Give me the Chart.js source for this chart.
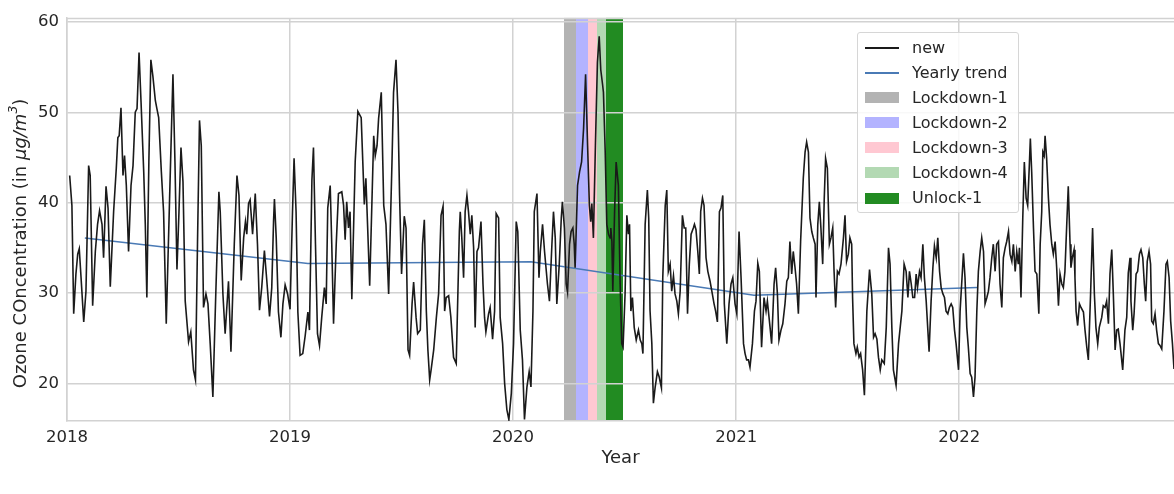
<!DOCTYPE html>
<html>
<head>
<meta charset="utf-8">
<script src="https://cdn.jsdelivr.net/npm/chart.js@4.4.1/dist/chart.umd.min.js"></script>
<style>
  html, body { margin: 0; padding: 0; background: #ffffff; }
  #wrap { position: relative; width: 1174px; height: 494px; overflow: hidden; }
  #legend {
    position: absolute; left: 857px; top: 32px; width: 160px; height: 179px;
    border: 1px solid #d6d6d6; border-radius: 3px; background: rgba(255, 255, 255, 0.85);
    font-family: 'DejaVu Sans', sans-serif; font-size: 16px; color: #262626;
  }
  .lg-item { position: absolute; left: 0; width: 160px; height: 20px; }
  .lg-mark { position: absolute; left: 7px; width: 34px; }
  .lg-text { position: absolute; left: 54px; top: 0; line-height: 20px; white-space: nowrap; }
</style>
</head>
<body>
<div id="wrap">
  <canvas id="ozoneChart" width="1174" height="494"></canvas>
  <div id="legend"></div>
</div>
<script>
// Daily ozone series (decimal year, µg/m³)
const dates = [
  2018.012, 2018.022, 2018.030, 2018.040, 2018.048, 2018.055, 2018.063, 2018.075, 2018.085, 2018.097,
  2018.104, 2018.115, 2018.127, 2018.137, 2018.146, 2018.157, 2018.164, 2018.175, 2018.184, 2018.194,
  2018.209, 2018.221, 2018.228, 2018.234, 2018.242, 2018.251, 2018.258, 2018.266, 2018.276, 2018.287,
  2018.296, 2018.306, 2018.314, 2018.323, 2018.332, 2018.344, 2018.351, 2018.358, 2018.367, 2018.376,
  2018.385, 2018.396, 2018.403, 2018.411, 2018.423,
  2018.433, 2018.445, 2018.460, 2018.475, 2018.484, 2018.493, 2018.502, 2018.511, 2018.520, 2018.530,
  2018.545, 2018.555, 2018.567, 2018.576, 2018.585, 2018.594, 2018.602, 2018.612, 2018.623, 2018.632,
  2018.642, 2018.654, 2018.667, 2018.681, 2018.687, 2018.699, 2018.709, 2018.724, 2018.735, 2018.750,
  2018.762, 2018.771, 2018.781, 2018.792, 2018.800, 2018.806, 2018.814, 2018.821, 2018.832, 2018.844,
  2018.854, 2018.863,
  2018.873, 2018.885, 2018.896, 2018.908, 2018.918, 2018.926, 2018.930, 2018.938, 2018.948, 2018.959,
  2018.968, 2018.978, 2018.989, 2019.000, 2019.011, 2019.018, 2019.027, 2019.035, 2019.045, 2019.057,
  2019.068, 2019.080, 2019.087, 2019.098, 2019.105, 2019.114, 2019.123, 2019.132, 2019.142, 2019.154,
  2019.162, 2019.169, 2019.180, 2019.187, 2019.195, 2019.207, 2019.217, 2019.232, 2019.240, 2019.247,
  2019.254, 2019.262, 2019.269, 2019.277, 2019.292, 2019.304, 2019.319,
  2019.333, 2019.340, 2019.348, 2019.357, 2019.375, 2019.382, 2019.390, 2019.397, 2019.409, 2019.420,
  2019.430, 2019.442, 2019.457, 2019.464, 2019.475, 2019.484, 2019.491, 2019.500, 2019.512, 2019.520,
  2019.529, 2019.536, 2019.547, 2019.554, 2019.565, 2019.572, 2019.584, 2019.594, 2019.602, 2019.611,
  2019.618, 2019.626, 2019.633, 2019.644, 2019.656, 2019.666, 2019.677, 2019.686, 2019.693, 2019.700,
  2019.711, 2019.721, 2019.733, 2019.745, 2019.759,
  2019.763, 2019.770, 2019.778, 2019.785, 2019.793, 2019.800, 2019.808, 2019.815, 2019.823, 2019.830,
  2019.838, 2019.845, 2019.856, 2019.865, 2019.872, 2019.878, 2019.890, 2019.897, 2019.908, 2019.917,
  2019.924, 2019.935, 2019.942, 2019.953, 2019.962, 2019.972, 2019.981, 2019.992, 2020.002, 2020.014,
  2020.021, 2020.032, 2020.042, 2020.051, 2020.062, 2020.072, 2020.080, 2020.089, 2020.095, 2020.107,
  2020.116, 2020.122, 2020.132, 2020.141, 2020.154, 2020.163, 2020.174, 2020.181, 2020.189, 2020.196,
  2020.207, 2020.216, 2020.221,
  2020.230, 2020.238, 2020.244, 2020.253, 2020.260, 2020.268, 2020.274, 2020.278, 2020.289, 2020.298,
  2020.307, 2020.316, 2020.325, 2020.334, 2020.342, 2020.348, 2020.353, 2020.360, 2020.369, 2020.378,
  2020.386, 2020.393, 2020.401, 2020.405, 2020.413, 2020.420, 2020.428, 2020.435, 2020.438, 2020.443,
  2020.447, 2020.455, 2020.462, 2020.472, 2020.480, 2020.487, 2020.493, 2020.502, 2020.510, 2020.517,
  2020.522, 2020.528, 2020.535, 2020.543, 2020.552, 2020.562, 2020.570, 2020.577, 2020.582, 2020.592,
  2020.602, 2020.608, 2020.614, 2020.622, 2020.629, 2020.637, 2020.647, 2020.655, 2020.665, 2020.671,
  2020.682,
  2020.689, 2020.696, 2020.704, 2020.711, 2020.719, 2020.726, 2020.734, 2020.741, 2020.749, 2020.759,
  2020.767, 2020.774, 2020.782, 2020.790, 2020.798, 2020.808, 2020.813, 2020.820, 2020.828, 2020.835,
  2020.841, 2020.849, 2020.856, 2020.865, 2020.873, 2020.883, 2020.891, 2020.901, 2020.908, 2020.916,
  2020.925, 2020.932, 2020.940, 2020.947, 2020.958, 2020.968, 2020.977, 2020.985, 2020.995, 2021.003,
  2021.013, 2021.022, 2021.033, 2021.040, 2021.047, 2021.055, 2021.062, 2021.073, 2021.082, 2021.089,
  2021.097, 2021.104,
  2021.114, 2021.125, 2021.134, 2021.140, 2021.152, 2021.159, 2021.170, 2021.177, 2021.185, 2021.192,
  2021.201, 2021.209, 2021.219, 2021.227, 2021.234, 2021.241, 2021.249, 2021.256, 2021.264, 2021.271,
  2021.279, 2021.289, 2021.301, 2021.309, 2021.316, 2021.324, 2021.331, 2021.339, 2021.346, 2021.354,
  2021.358, 2021.366, 2021.373, 2021.380, 2021.388, 2021.395, 2021.401, 2021.409, 2021.418, 2021.425,
  2021.433, 2021.439, 2021.446, 2021.454, 2021.461, 2021.470, 2021.481, 2021.488, 2021.495, 2021.503,
  2021.510, 2021.518, 2021.522, 2021.528, 2021.537, 2021.543, 2021.551, 2021.558, 2021.567,
  2021.575, 2021.586, 2021.598, 2021.608, 2021.616, 2021.623, 2021.631, 2021.638, 2021.646, 2021.653,
  2021.664, 2021.673, 2021.683, 2021.690, 2021.698, 2021.705, 2021.717, 2021.728, 2021.743, 2021.753,
  2021.762, 2021.770, 2021.777, 2021.785, 2021.792, 2021.800, 2021.807, 2021.813, 2021.822, 2021.829,
  2021.837, 2021.844, 2021.852, 2021.865, 2021.874, 2021.882, 2021.889, 2021.897, 2021.904, 2021.912,
  2021.919, 2021.927, 2021.934, 2021.941, 2021.949, 2021.956, 2021.964, 2021.971, 2021.979, 2021.986,
  2021.997, 2022.004,
  2022.019, 2022.026, 2022.034, 2022.041, 2022.049, 2022.056, 2022.064, 2022.071, 2022.079, 2022.086,
  2022.094, 2022.101, 2022.109, 2022.116, 2022.124, 2022.131, 2022.138, 2022.146, 2022.153, 2022.161,
  2022.168, 2022.176, 2022.183, 2022.191, 2022.198, 2022.206, 2022.213, 2022.221, 2022.228, 2022.236,
  2022.243, 2022.251, 2022.258, 2022.265, 2022.270, 2022.277, 2022.285, 2022.292, 2022.300, 2022.307,
  2022.315, 2022.319, 2022.325, 2022.333, 2022.340, 2022.348, 2022.357, 2022.363, 2022.370, 2022.375,
  2022.381, 2022.385, 2022.392, 2022.400, 2022.407, 2022.415, 2022.422, 2022.430, 2022.437, 2022.445,
  2022.452, 2022.460, 2022.467,
  2022.474, 2022.482, 2022.489, 2022.497, 2022.501, 2022.507, 2022.515, 2022.519, 2022.524, 2022.531,
  2022.539, 2022.546, 2022.557, 2022.564, 2022.572, 2022.579, 2022.589, 2022.598, 2022.606, 2022.613,
  2022.621, 2022.628, 2022.639, 2022.646, 2022.654, 2022.661, 2022.669, 2022.676, 2022.684, 2022.691,
  2022.699, 2022.706, 2022.713, 2022.721, 2022.733, 2022.743, 2022.751, 2022.758, 2022.766, 2022.770,
  2022.778, 2022.784, 2022.793, 2022.800, 2022.808, 2022.815, 2022.823, 2022.830, 2022.836, 2022.843,
  2022.851, 2022.858, 2022.863, 2022.870, 2022.878, 2022.885, 2022.893, 2022.900, 2022.908, 2022.918,
  2022.927, 2022.933, 2022.941, 2022.948, 2022.956, 2022.963
];

const ozone = [
  43.0, 39.7, 27.7, 32.1, 34.3, 34.9, 31.7, 26.8, 30.2, 44.1,
  43.0, 28.6, 34.6, 37.6, 39.1, 37.6, 33.9, 41.8, 39.4, 30.7,
  39.0, 43.8, 47.2, 47.4, 50.5, 43.0, 45.2, 41.9, 34.6, 41.9,
  44.1, 50.0, 50.4, 56.6, 51.1, 43.4, 37.6, 29.5, 44.5, 55.8,
  54.0, 51.3, 50.4, 49.4, 43.4,
  39.0, 26.6, 40.5, 54.2, 44.5, 32.6, 39.0, 46.1, 42.3, 29.1,
  24.6, 25.7, 21.5, 20.4, 35.4, 49.1, 46.3, 28.4, 29.9, 28.8,
  24.4, 18.5, 29.9, 41.2, 39.0, 29.9, 25.5, 31.3, 23.5, 35.4,
  43.0, 40.8, 31.4, 36.1, 37.9, 36.5, 39.9, 40.3, 36.5, 41.0,
  35.4, 28.1,
  30.6, 34.7, 31.3, 27.4, 30.6, 37.9, 40.4, 36.1, 27.9, 25.1,
  28.8, 30.9, 29.9, 28.2, 39.0, 44.9, 39.0, 27.9, 23.1, 23.3,
  25.3, 27.9, 25.9, 42.5, 46.1, 35.4, 25.5, 24.2, 27.3, 30.6,
  28.8, 39.4, 41.9, 35.4, 26.6, 35.4, 41.0, 41.2, 39.7, 35.9,
  40.1, 37.2, 39.0, 29.3, 44.5, 50.1, 49.4,
  39.8, 42.7, 37.2, 30.8, 47.4, 45.2, 46.3, 49.3, 52.2, 39.7,
  37.6, 29.9, 44.5, 52.2, 55.8, 50.0, 40.8, 32.1, 38.5, 37.2,
  23.7, 23.1, 28.8, 31.2, 27.3, 25.5, 25.9, 35.4, 38.1, 28.0,
  23.7, 20.4, 21.6, 23.7, 27.3, 29.9, 38.6, 39.6, 28.0, 29.5,
  29.7, 27.3, 22.9, 22.2, 36.8,
  39.0, 36.1, 31.7, 39.0, 40.8, 39.0, 36.5, 38.6, 35.0, 26.2,
  34.6, 35.0, 37.9, 31.0, 27.3, 25.7, 27.7, 28.4, 24.9, 28.0,
  38.8, 38.3, 27.3, 24.4, 20.0, 17.1, 16.0, 18.9, 24.4, 37.9,
  36.8, 25.9, 22.6, 16.0, 19.6, 21.3, 19.6, 28.0, 39.0, 41.0,
  31.7, 34.6, 37.6, 34.6, 31.0, 29.1, 35.4, 39.0, 36.1, 28.8,
  33.2, 38.3, 40.1,
  37.2, 31.0, 30.1, 35.4, 36.8, 37.2, 35.4, 32.8, 41.9, 43.4,
  44.5, 48.2, 54.2, 46.3, 39.7, 37.9, 39.9, 36.1, 46.3, 55.5,
  58.4, 54.7, 53.1, 52.2, 45.6, 37.6, 36.5, 36.1, 37.2, 35.7,
  30.2, 39.0, 44.5, 41.9, 31.0, 24.4, 24.0, 29.9, 38.6, 36.5,
  37.6, 28.0, 29.5, 26.2, 24.8, 25.9, 24.8, 24.4, 23.3, 37.6,
  41.4, 38.3, 28.0, 24.4, 17.8, 19.6, 21.3, 20.7, 19.5, 31.7,
  39.7,
  41.4, 32.4, 33.2, 30.2, 31.9, 29.9, 29.1, 27.7, 30.2, 38.6,
  37.2, 37.2, 27.7, 33.2, 36.5, 37.2, 37.6, 37.0, 34.6, 32.1,
  39.0, 40.5, 39.7, 33.9, 32.4, 31.3, 30.2, 28.8, 28.0, 26.8,
  39.0, 39.4, 40.8, 28.8, 24.4, 28.8, 31.0, 31.7, 28.8, 27.7,
  36.8, 31.7, 24.4, 23.3, 22.6, 22.6, 21.8, 24.4, 28.0, 29.1,
  33.3, 32.4,
  24.0, 29.5, 28.0, 29.1, 26.2, 24.4, 31.0, 32.8, 29.9, 24.8,
  25.9, 26.6, 28.8, 31.3, 31.7, 35.7, 32.1, 34.6, 32.8, 31.0,
  27.7, 35.7, 42.7, 45.6, 46.7, 45.6, 38.3, 36.8, 36.1, 35.4,
  29.5, 37.6, 40.1, 37.2, 33.2, 40.5, 44.9, 43.8, 35.4, 36.1,
  37.2, 32.4, 28.4, 32.4, 32.1, 33.2, 36.1, 38.6, 33.5, 34.3,
  36.1, 35.4, 29.5, 24.4, 23.3, 24.0, 22.9, 23.3, 21.5,
  18.7, 28.0, 32.6, 29.9, 25.1, 25.5, 24.9, 22.9, 21.5, 22.6,
  22.2, 26.2, 35.0, 33.2, 26.2, 21.5, 19.8, 24.4, 28.0, 33.2,
  32.4, 29.5, 32.4, 31.0, 29.5, 29.5, 32.1, 30.6, 32.4, 31.7,
  35.4, 31.7, 29.1, 23.5, 29.1, 32.8, 35.2, 33.9, 36.1, 32.4,
  30.6, 29.9, 29.5, 28.0, 27.7, 28.4, 28.8, 28.4, 25.9, 24.4,
  21.5, 28.0,
  34.4, 31.7, 26.2, 24.0, 21.1, 20.7, 18.5, 20.7, 28.0, 32.4,
  34.6, 36.1, 34.6, 28.8, 29.5, 30.2, 31.7, 33.9, 35.4, 32.4,
  35.4, 35.7, 31.0, 28.4, 33.9, 35.0, 35.7, 36.8, 34.3, 33.5,
  35.4, 32.4, 34.6, 33.2, 35.0, 29.5, 38.3, 44.5, 40.5, 39.7,
  44.5, 47.1, 43.4, 37.2, 32.4, 32.1, 27.7, 35.4, 39.0, 45.6,
  45.2, 47.4, 44.9, 40.5, 37.6, 35.4, 34.3, 35.7, 32.8, 28.6,
  32.1, 31.0, 30.6,
  32.4, 37.5, 41.8, 35.4, 32.8, 33.9, 34.8, 31.7, 28.0, 26.4,
  28.8, 28.4, 27.9, 25.9, 24.0, 22.6, 29.9, 37.2, 29.9, 26.2,
  24.4, 26.2, 27.3, 28.6, 28.4, 29.1, 26.6, 32.1, 34.8, 29.9,
  23.7, 25.9, 26.0, 24.4, 21.5, 25.9, 27.3, 32.2, 33.9, 29.1,
  25.9, 27.7, 32.1, 32.4, 34.3, 34.8, 33.9, 31.0, 29.1, 33.5,
  34.6, 33.2, 26.9, 26.6, 27.7, 25.9, 24.4, 24.2, 23.8, 28.0,
  33.2, 33.5, 31.7, 26.9, 24.4, 21.6
];

// Yearly trend
const trendDates = [2018.08, 2019.08, 2020.08, 2021.08, 2022.08];
const trendValues = [36.1, 33.27, 33.45, 29.76, 30.6];

// Lockdown / unlock phases of 2020
const phaseNames = ['Lockdown-1', 'Lockdown-2', 'Lockdown-3', 'Lockdown-4', 'Unlock-1'];
const phaseStart = [2020.2295, 2020.2842, 2020.3361, 2020.3770, 2020.4153];
const phaseEnd = [2020.2842, 2020.3361, 2020.3770, 2020.4153, 2020.4945];

// Axis ticks
const yearTicks = [2018, 2019, 2020, 2021, 2022];
const valueTicks = [20, 30, 40, 50, 60];

// y-axis label pieces: plain text, then the math part in italics with a superscript
const yLabelParts = ['Ozone COncentration (in ', 'μg/m', '3', ')'];

const phaseColors = ['#b3b3b3', '#b3b3ff', '#ffc8d2', '#b3d9b3', '#228b22'];
const lineColor = '#1a1a1a';
const trendColor = '#4a7ab5';
const gridColor = '#d2d2d2';
const textColor = '#262626';
const fontFamily = "'DejaVu Sans', sans-serif";

Chart.defaults.font.family = fontFamily;
Chart.defaults.color = textColor;

// Shaded phase bands, drawn under the grid
const phaseBands = {
    id: 'phaseBands',
    beforeDraw(chart) {
        const { ctx, chartArea, scales } = chart;
        ctx.save();
        phaseNames.forEach((name, i) => {
            const x0 = Math.round(scales.x.getPixelForValue(phaseStart[i]));
            const x1 = Math.round(scales.x.getPixelForValue(phaseEnd[i]));
            ctx.fillStyle = phaseColors[i];
            ctx.fillRect(x0, chartArea.top, x1 - x0, chartArea.bottom - chartArea.top);
        });
        ctx.restore();
    }
};

// Top spine (seaborn whitegrid keeps all four)
const topSpine = {
    id: 'topSpine',
    afterDraw(chart) {
        const { ctx, chartArea } = chart;
        ctx.save();
        ctx.strokeStyle = gridColor;
        ctx.lineWidth = 1.5;
        ctx.beginPath();
        ctx.moveTo(chartArea.left, chartArea.top + 0.5);
        ctx.lineTo(chartArea.right, chartArea.top + 0.5);
        ctx.stroke();
        ctx.restore();
    }
};

// Rotated y label with mathtext-like italic unit and superscript
const yLabel = {
    id: 'yLabel',
    afterDraw(chart) {
        const { ctx, chartArea } = chart;
        const fonts = [
            `18px ${fontFamily}`,
            `italic 18px ${fontFamily}`,
            `italic 12.5px ${fontFamily}`,
            `18px ${fontFamily}`
        ];
        const shifts = [0, 0, -7, 0];
        ctx.save();
        let total = 0;
        const widths = yLabelParts.map((t, i) => {
            ctx.font = fonts[i];
            const w = ctx.measureText(t).width;
            total += w;
            return w;
        });
        const cy = (chartArea.top + chartArea.bottom) / 2 + 24;
        ctx.translate(21, cy);
        ctx.rotate(-Math.PI / 2);
        ctx.fillStyle = textColor;
        ctx.textBaseline = 'middle';
        ctx.textAlign = 'left';
        let x = -total / 2;
        yLabelParts.forEach((t, i) => {
            ctx.font = fonts[i];
            ctx.fillText(t, x, shifts[i]);
            x += widths[i];
        });
        ctx.restore();
    }
};

const seriesPoints = dates.map((d, i) => ({ x: d, y: ozone[i] }));
const trendPoints = trendDates.map((d, i) => ({ x: d, y: trendValues[i] }));

const ctx = document.getElementById('ozoneChart').getContext('2d');
const chart = new Chart(ctx, {
    type: 'line',
    data: {
        datasets: [{
            label: 'new',
            data: seriesPoints,
            borderColor: lineColor,
            borderWidth: 1.6,
            pointRadius: 0,
            tension: 0,
            fill: false
        }, {
            label: 'Yearly trend',
            data: trendPoints,
            borderColor: trendColor,
            borderWidth: 1.5,
            pointRadius: 0,
            tension: 0,
            fill: false
        }]
    },
    options: {
        responsive: false,
        animation: false,
        devicePixelRatio: 1,
        layout: { padding: { top: 14, right: 0, left: 0, bottom: 0 } },
        plugins: {
            legend: { display: false },
            tooltip: { enabled: false }
        },
        scales: {
            x: {
                type: 'linear',
                min: 2018,
                max: 2022.963,
                afterBuildTicks: (scale) => { scale.ticks = yearTicks.map(v => ({ value: v })); },
                afterFit: (scale) => { scale.height = 73; },
                grid: { color: gridColor, lineWidth: 1.5, drawTicks: false },
                border: { display: true, color: gridColor, width: 1.5 },
                ticks: {
                    padding: 7,
                    color: textColor,
                    font: { size: 16.5 },
                    maxRotation: 0,
                    callback: (value) => String(value)
                },
                title: {
                    display: true,
                    text: 'Year',
                    color: textColor,
                    font: { size: 18 },
                    padding: { top: 2, bottom: 25 }
                }
            },
            y: {
                type: 'linear',
                min: 15.84,
                max: 60.44,
                afterBuildTicks: (scale) => { scale.ticks = valueTicks.map(v => ({ value: v })); },
                afterFit: (scale) => { scale.width = 67; },
                grid: { color: gridColor, lineWidth: 1.5, drawTicks: false },
                border: { display: true, color: gridColor, width: 1.5 },
                ticks: {
                    padding: 8,
                    color: textColor,
                    font: { size: 16.5 },
                    callback: (value) => String(value)
                }
            }
        }
    },
    plugins: [phaseBands, topSpine, yLabel]
});

// Legend box, built from the dataset and phase arrays
const legendBox = document.getElementById('legend');
const legendEntries = [
    { label: 'new', kind: 'line', color: lineColor },
    { label: 'Yearly trend', kind: 'line', color: trendColor }
].concat(phaseNames.map((name, i) => ({ label: name, kind: 'patch', color: phaseColors[i] })));

legendEntries.forEach((entry, i) => {
    const item = document.createElement('div');
    item.className = 'lg-item';
    item.style.top = (14.7 + i * 25.05 - 10) + 'px';
    const mark = document.createElement('div');
    mark.className = 'lg-mark';
    if (entry.kind === 'line') {
        mark.style.top = '9px';
        mark.style.height = '2px';
    } else {
        mark.style.top = '4.5px';
        mark.style.height = '11px';
    }
    mark.style.background = entry.color;
    const text = document.createElement('span');
    text.className = 'lg-text';
    text.textContent = entry.label;
    item.appendChild(mark);
    item.appendChild(text);
    legendBox.appendChild(item);
});
</script>
</body>
</html>
